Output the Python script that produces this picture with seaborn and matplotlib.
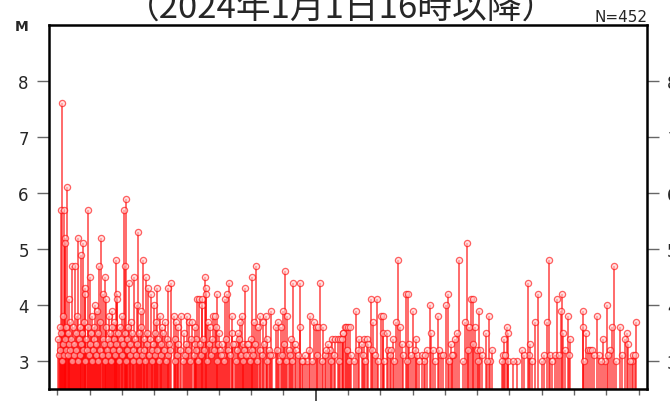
import matplotlib
matplotlib.use("Agg")
import matplotlib.pyplot as plt
import seaborn as sns
import pandas as pd

# elapsed days since 2024-01-01 16:00 and magnitude
days = [0.11, 0.15, 0.21, 0.24, 0.25, 0.30, 0.36, 0.46, 0.55, 0.65, 0.72, 0.80, 0.86, 0.87,
        0.94, 1.02, 1.08, 1.17, 1.24, 1.29, 1.36, 1.42, 1.48, 1.52, 1.60, 1.70, 1.76, 1.77,
        1.81, 1.84, 1.85, 1.99, 2.06, 2.10, 2.13, 2.22, 2.29, 2.38, 2.45, 2.49, 2.58, 2.65,
        2.74, 2.82, 2.89, 2.99, 3.05, 3.10, 3.17, 3.25, 3.33, 3.41, 3.51, 3.61, 3.68, 3.75,
        3.82, 3.92, 4.01, 4.08, 4.18, 4.28, 4.33,
        4.27, 4.37, 4.47, 4.49, 4.57, 4.59, 4.60, 4.67, 4.73, 4.83, 4.88, 4.90, 4.95, 5.04,
        5.14, 5.19, 5.26, 5.33, 5.40, 5.42, 5.50, 5.60, 5.66, 5.71, 5.76, 5.81, 5.86, 5.94,
        6.00, 6.04, 6.10, 6.16, 6.22, 6.29, 6.37, 6.45, 6.50, 6.62, 6.66, 6.78, 6.84, 6.93,
        6.99, 7.05, 7.11, 7.23, 7.31, 7.36, 7.51, 7.52, 7.62, 7.74, 7.83, 7.96, 8.00, 8.08,
        8.13, 8.24, 8.29, 8.37, 8.44, 8.51, 8.60, 8.68, 8.76, 8.84, 8.91,
        8.80, 8.85, 8.94, 9.01, 9.04, 9.06, 9.25, 9.35, 9.42, 9.50, 9.58, 9.63, 9.70, 9.78,
        9.91, 9.94, 10.01, 10.07, 10.09, 10.20, 10.25, 10.32, 10.40, 10.48, 10.55, 10.61,
        10.66, 10.79, 10.87, 10.90, 10.94, 11.02, 11.11, 11.15, 11.28, 11.35, 11.46, 11.54,
        11.56, 11.62, 11.78, 11.87, 11.95, 12.03, 12.09, 12.18, 12.26, 12.31, 12.38, 12.45,
        12.62, 12.69, 12.76, 12.81, 12.86, 12.88, 12.93, 12.98, 13.06, 13.09, 13.27, 13.36,
        13.45,
        13.39, 13.76, 13.79, 13.83, 13.91, 13.96, 13.97, 14.22, 14.38, 14.56, 14.61, 14.63,
        14.79, 14.89, 15.00, 15.15, 15.22, 15.25, 15.41, 15.46, 15.59, 15.62, 15.67, 15.72,
        15.82, 15.83, 15.89, 16.27, 16.28, 16.36, 16.42, 16.50, 16.55, 16.70, 16.78, 16.89,
        16.96, 17.01, 17.11, 17.19, 17.23, 17.42, 17.58, 17.63, 17.68, 17.79, 17.84, 17.90,
        17.91]
mags = [5.7, 7.6, 5.7, 5.2, 5.1, 6.1, 4.1, 4.7, 4.7, 5.2, 4.9, 5.1, 4.3, 4.2,
        5.7, 4.5, 3.8, 4.0, 3.9, 4.7, 5.2, 4.2, 4.5, 4.1, 3.8, 3.9, 3.7, 3.5,
        4.8, 4.2, 4.1, 3.8, 5.7, 4.7, 5.9, 4.4, 3.7, 4.5, 4.0, 5.3, 3.9, 4.8,
        4.5, 4.3, 4.2, 4.0, 3.7, 4.3, 3.8, 3.6, 3.7, 4.3, 4.4, 3.8, 3.7, 3.6,
        3.8, 3.5, 3.8, 3.7, 3.7, 3.4, 4.1,
        3.6, 4.1, 4.1, 4.0, 4.5, 4.3, 4.2, 3.7, 3.6, 3.8, 3.8, 3.6, 4.2, 3.2,
        3.1, 4.1, 4.2, 4.4, 3.8, 3.5, 3.3, 3.5, 3.7, 3.8, 3.3, 4.3, 3.3, 3.1,
        3.4, 4.5, 3.7, 4.7, 3.6, 3.8, 3.7, 3.8, 3.4, 3.9, 3.1, 3.6, 3.7, 3.6,
        3.9, 4.6, 3.8, 3.4, 4.4, 3.3, 4.4, 3.6, 3.0, 3.0, 3.8, 3.7, 3.6, 3.6,
        4.4, 3.6, 3.1, 3.3, 3.2, 3.4, 3.4, 3.4, 3.4, 3.5, 3.6,
        3.4, 3.5, 3.6, 3.6, 3.0, 3.6, 3.9, 3.4, 3.3, 3.4, 3.4, 3.3, 4.1, 3.7,
        4.1, 3.0, 3.8, 3.5, 3.8, 3.5, 3.2, 3.2, 3.4, 3.7, 4.8, 3.6,
        3.3, 4.2, 4.2, 3.3, 3.1, 3.9, 3.4, 3.1, 3.1, 3.0, 3.2, 4.0,
        3.5, 3.2, 3.8, 3.1, 3.1, 4.0, 4.2, 3.3, 3.1, 3.4, 3.5, 4.8,
        3.7, 5.1, 3.6, 4.1, 4.1, 3.3, 3.6, 3.2, 3.9, 3.2, 3.5, 3.8,
        3.2,
        3.0, 3.0, 3.1, 3.4, 3.6, 3.5, 3.0, 3.0, 3.2, 4.4, 3.1, 3.3,
        3.7, 4.2, 3.0, 3.7, 4.8, 3.1, 3.1, 4.1, 3.9, 4.2, 3.5, 3.2,
        3.8, 3.1, 3.4, 3.9, 3.6, 3.5, 3.2, 3.2, 3.2, 3.8, 3.1, 3.4,
        3.0, 4.0, 3.2, 3.6, 4.7, 3.6, 3.4, 3.5, 3.3, 3.0, 3.1, 3.1,
        3.7]

# smaller events hidden in the solid red band (estimated)
small_days = [0.03, 0.05, 0.07, 0.09, 0.12, 0.13, 0.17, 0.18, 0.20, 0.23, 0.27, 0.28, 0.32,
              0.33, 0.35, 0.38, 0.40, 0.42, 0.44, 0.48, 0.50, 0.52, 0.57, 0.59, 0.61, 0.63,
              0.67, 0.69, 0.70, 0.74, 0.76, 0.78, 0.82, 0.84, 0.89, 0.91, 0.96, 0.98, 1.00,
              1.04, 1.06, 1.10, 1.12, 1.14, 1.19, 1.21, 1.26, 1.27, 1.31, 1.33, 1.38, 1.40,
              1.44, 1.46, 1.50, 1.54, 1.56, 1.58, 1.62, 1.64, 1.66, 1.68, 1.72, 1.74, 1.79,
              1.83, 1.88, 1.90, 1.92, 1.95, 1.97, 2.01, 2.03, 2.08, 2.11, 2.15, 2.17, 2.19,
              2.24, 2.26, 2.31, 2.33, 2.35, 2.40, 2.42, 2.47, 2.52, 2.54, 2.56, 2.60, 2.62,
              2.67, 2.69, 2.71, 2.77, 2.79, 2.85, 2.87, 2.92, 2.94, 2.97, 3.01, 3.03, 3.08,
              3.13, 3.15, 3.20, 3.22, 3.28, 3.30, 3.36, 3.38, 3.44, 3.46, 3.49, 3.63, 3.64,
              3.71, 3.73, 3.79, 3.90, 3.95, 3.98, 4.04, 4.11, 4.14, 4.22, 4.25,
              4.30, 4.35, 4.41, 4.44, 4.52, 4.55, 4.63, 4.70, 4.76, 4.80, 4.86, 4.93, 4.98,
              5.01, 5.07, 5.10, 5.17, 5.22, 5.29, 5.36, 5.45, 5.53, 5.57, 5.63, 5.69, 5.74,
              5.79, 5.84, 5.90, 5.97, 6.02, 6.07, 6.13, 6.19, 6.26, 6.33, 6.41, 6.48, 6.55,
              6.59, 6.80, 6.87, 6.96, 7.02, 7.08, 7.16, 7.20, 7.27, 7.40, 7.46, 7.56, 7.68,
              7.79, 7.88, 8.04, 8.18, 8.33, 8.47, 8.56, 8.72, 8.97,
              9.10, 9.19, 9.30, 9.46, 9.54, 9.73, 9.85, 10.13, 10.29, 10.44, 10.71, 10.83,
              11.06, 11.20, 11.40, 11.70, 11.83, 12.13, 12.22, 12.55, 12.72, 13.02, 13.15,
              13.31, 13.87, 14.10, 14.45, 14.70, 15.08, 15.33, 15.52, 16.32, 16.62, 16.83,
              17.06, 17.30, 17.50, 17.74]
small_mags = [3.4, 3.1, 3.6, 3.2, 3.5, 3.0, 3.3, 3.8, 3.1, 3.4, 3.6, 3.2, 3.5,
              3.1, 3.3, 3.7, 3.2, 3.4, 3.0, 3.6, 3.3, 3.1, 3.5, 3.2, 3.8, 3.0,
              3.4, 3.6, 3.1, 3.3, 3.5, 3.2, 3.7, 3.0, 3.4, 3.2, 3.6, 3.1, 3.3,
              3.5, 3.0, 3.2, 3.6, 3.4, 3.1, 3.3, 3.5, 3.0, 3.2, 3.7, 3.1, 3.4,
              3.3, 3.0, 3.6, 3.2, 3.4, 3.1, 3.5, 3.3, 3.0, 3.6, 3.2, 3.4, 3.1,
              3.3, 3.5, 3.0, 3.2, 3.6, 3.4, 3.1, 3.3, 3.5, 3.0, 3.2, 3.4, 3.6,
              3.1, 3.3, 3.5, 3.0, 3.2, 3.4, 3.1, 3.3, 3.5, 3.0, 3.2, 3.6, 3.1,
              3.4, 3.2, 3.0, 3.3, 3.5, 3.1, 3.4, 3.2, 3.0, 3.3, 3.5, 3.1, 3.2,
              3.4, 3.0, 3.3, 3.1, 3.5, 3.2, 3.0, 3.4, 3.1, 3.3, 3.2, 3.0, 3.4,
              3.1, 3.3, 3.2, 3.0, 3.1, 3.3, 3.2, 3.0, 3.4, 3.1, 3.3,
              3.2, 3.0, 3.3, 3.1, 3.4, 3.2, 3.0, 3.3, 3.1, 3.4, 3.2, 3.0, 3.3,
              3.5, 3.1, 3.3, 3.0, 3.4, 3.2, 3.1, 3.3, 3.0, 3.2, 3.4, 3.1, 3.0,
              3.2, 3.1, 3.3, 3.0, 3.2, 3.1, 3.3, 3.0, 3.2, 3.1, 3.3, 3.0, 3.2,
              3.1, 3.2, 3.0, 3.1, 3.3, 3.0, 3.2, 3.1, 3.0, 3.2, 3.1, 3.0, 3.1,
              3.2, 3.0, 3.1, 3.0, 3.2, 3.0, 3.1, 3.0, 3.2,
              3.1, 3.0, 3.2, 3.1, 3.0, 3.2, 3.1, 3.0, 3.1, 3.0, 3.1, 3.0,
              3.2, 3.0, 3.1, 3.0, 3.2, 3.0, 3.1, 3.0, 3.2, 3.0, 3.1,
              3.0, 3.1, 3.0, 3.1, 3.0, 3.1, 3.0, 3.1, 3.0, 3.1, 3.0,
              3.1, 3.0, 3.1, 3.0]

day_ticks = list(range(19))
m_ticks = [3, 4, 5, 6, 7, 8]

df = pd.DataFrame({"day": days + small_days, "M": mags + small_mags})

sns.set_style("white")
plt.rcParams["font.family"] = ["DejaVu Sans"]
cjk = ["Noto Sans CJK JP", "DejaVu Sans"]

fig = plt.figure(figsize=(6.7, 4.02), dpi=100)
ax = fig.add_axes([49 / 670, 12 / 402, 598 / 670, 364 / 402])

ymin = 2.5
ax.vlines(df["day"], ymin, df["M"], color="red", alpha=0.65, linewidth=1.25, zorder=2)
sns.scatterplot(data=df, x="day", y="M", marker="o", s=20, color="#ffd0d0",
                edgecolor="red", linewidth=0.9, alpha=0.6, legend=False, ax=ax, zorder=3)

ax.set_xlim(-0.26, 18.26)
ax.set_ylim(ymin, 9)
ax.set_xlabel("")
ax.set_ylabel("")

ax.set_yticks(m_ticks)
ax.tick_params(axis="y", left=True, right=True, labelleft=True, labelright=True,
               direction="out", length=8.5, width=1.0, color="#666666", pad=6,
               labelsize=12)
ax.set_xticks([d for d in day_ticks if d == 8])
ax.set_xticks([d for d in day_ticks if d != 8], minor=True)
ax.tick_params(axis="x", which="major", bottom=True, labelbottom=False,
               direction="out", length=9, width=1.2, color="#333333")
ax.tick_params(axis="x", which="minor", bottom=True, direction="out",
               length=4.5, width=1.0, color="#666666")

for sp in ax.spines.values():
    sp.set_visible(True)
    sp.set_color("black")
    sp.set_linewidth(1.8)

fig.text(22 / 670, 1 - 27 / 402, "M", fontsize=10, fontweight="bold",
         ha="center", va="center")
fig.text(647 / 670, 1 - 22 / 402, "N=452", fontsize=11, ha="right", va="baseline")
fig.text(341 / 670, 1 - 19 / 402, "（2024年1月1日16時以降）", fontsize=25,
         family=cjk, ha="center", va="baseline")

fig.savefig("out.png", dpi=100)
